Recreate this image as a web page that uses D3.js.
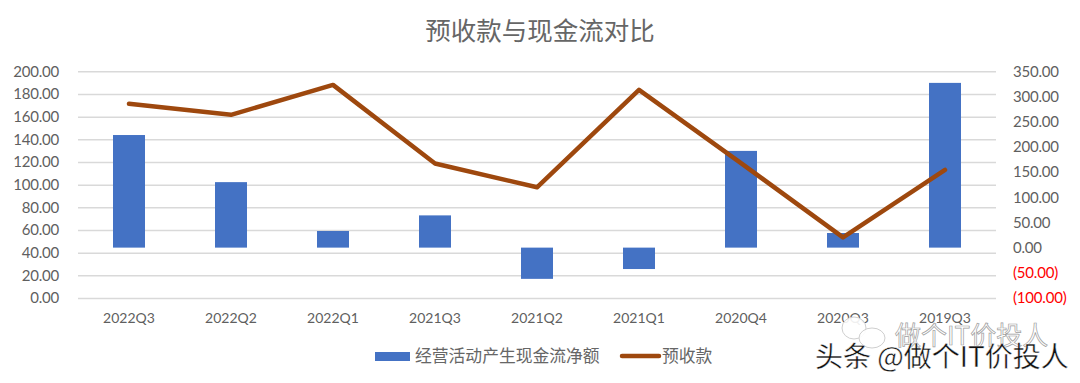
<!DOCTYPE html>
<html>
<head>
<meta charset="utf-8">
<script src="https://cdn.jsdelivr.net/npm/d3@7"></script>
<style>
  body { margin: 0; background: #fff; }
  text { font-family: Lato, "Noto Sans CJK SC", sans-serif; }
</style>
</head>
<body>
<div id="chart"></div>
<script>
// values
const quarters = ['2022Q3', '2022Q2', '2022Q1', '2021Q3', '2021Q2', '2021Q1', '2020Q4', '2020Q3', '2019Q3'];
const cashFlow = [223.5, 130, 33, 64, -62, -42.5, 192, 29, 327];
const advance = [171.3, 161.6, 188, 118.7, 97.7, 183.6, 119, 53.5, 113];
const leftTicks = [0, 20, 40, 60, 80, 100, 120, 140, 160, 180, 200];
const rightTicks = [-100, -50, 0, 50, 100, 150, 200, 250, 300, 350];

const width = 1080; const height = 383;
const margin = {top: 71.3, right: 84, bottom: 85, left: 78};
const innerWidth = width - margin.left - margin.right;
const innerHeight = height - margin.top - margin.bottom;

const svg = d3.select('#chart')
    .append('svg')
        .attr('width', width)
        .attr('height', height)
        .style('display', 'block');

const plotG = svg.append('g')
    .attr('transform', `translate(${margin.left}, ${margin.top})`);

const xScale = d3.scaleBand().domain(quarters).range([0, innerWidth]);
const yLeft = d3.scaleLinear().domain([0, 200]).range([innerHeight, 0]);
const yRight = d3.scaleLinear().domain([-100, 350]).range([innerHeight, 0]);

// gridlines
plotG.append('g')
    .call(d3.axisLeft(yLeft).tickValues(leftTicks).tickSize(-innerWidth).tickFormat(''))
    .call(g => g.select('.domain').remove())
    .selectAll('line')
        .attr('stroke', '#d9d9d9')
        .attr('stroke-width', 1.5);

// left axis
const axisL = plotG.append('g')
    .call(d3.axisLeft(yLeft).tickValues(leftTicks).tickSize(0).tickPadding(19).tickFormat(d3.format('.2f')));
axisL.select('.domain').remove();
axisL.selectAll('text')
    .attr('fill', '#5f5f5f')
    .style('font-size', '15px')
    .style('letter-spacing', '-0.2px');

// right axis, negatives in red with brackets
const axisR = plotG.append('g')
    .attr('transform', `translate(${innerWidth}, 0)`)
    .call(d3.axisRight(yRight).tickValues(rightTicks).tickSize(0).tickPadding(17)
        .tickFormat(d => d < 0 ? `(${d3.format('.2f')(-d)})` : d3.format('.2f')(d)));
axisR.select('.domain').remove();
axisR.selectAll('text')
    .attr('fill', d => d < 0 ? '#ff0000' : '#5f5f5f')
    .style('font-size', '15px')
    .style('letter-spacing', '-0.2px');

// x labels
const axisX = plotG.append('g')
    .attr('transform', `translate(0, ${innerHeight})`)
    .call(d3.axisBottom(xScale).tickSize(0).tickPadding(15));
axisX.select('.domain').remove();
axisX.selectAll('text')
    .attr('fill', '#5f5f5f')
    .style('font-size', '14px');

// bars
plotG.selectAll('.bar')
    .data(quarters)
    .enter()
    .append('rect')
        .attr('class', 'bar')
        .attr('x', d => xScale(d) + xScale.bandwidth() / 2 - 16)
        .attr('width', 32)
        .attr('y', (d, i) => yRight(Math.max(cashFlow[i], 0)))
        .attr('height', (d, i) => Math.abs(yRight(cashFlow[i]) - yRight(0)))
        .attr('fill', '#4472c4');

// line
const line = d3.line()
    .x(d => xScale(d.q) + xScale.bandwidth() / 2)
    .y(d => yLeft(d.v));
plotG.append('path')
    .datum(quarters.map((q, i) => ({q: q, v: advance[i]})))
    .attr('d', line)
    .attr('fill', 'none')
    .attr('stroke', '#9e480e')
    .attr('stroke-width', 4.5)
    .attr('stroke-linecap', 'round')
    .attr('stroke-linejoin', 'round');

// title
svg.append('text')
    .attr('x', 540)
    .attr('y', 39.5)
    .attr('text-anchor', 'middle')
    .attr('fill', '#666666')
    .style('font-family', '"Noto Sans CJK SC"')
    .style('font-size', '25.5px')
    .text('预收款与现金流对比');

// legend
const legend = svg.append('g').style('font-family', '"Noto Sans CJK SC"').style('font-size', '16.8px').attr('fill', '#666666');
legend.append('rect').attr('x', 375).attr('y', 352).attr('width', 35).attr('height', 9).attr('fill', '#4472c4');
legend.append('text').attr('x', 415).attr('y', 362).text('经营活动产生现金流净额');
legend.append('line').attr('x1', 622).attr('x2', 659).attr('y1', 356).attr('y2', 356)
    .attr('stroke', '#9e480e').attr('stroke-width', 4.5).attr('stroke-linecap', 'round');
legend.append('text').attr('x', 662).attr('y', 362).text('预收款');

// watermark bubbles sit over the 2020Q3 label
const bubbles = svg.append('g').attr('fill', '#ffffff').attr('fill-opacity', 0.9)
    .attr('stroke', '#cfcfcf').attr('stroke-width', 1);
bubbles.append('ellipse').attr('cx', 854).attr('cy', 328).attr('rx', 12).attr('ry', 11);
bubbles.append('ellipse').attr('cx', 872).attr('cy', 338).attr('rx', 13).attr('ry', 10);

// watermarks on top of the chart
svg.append('text')
    .attr('x', 895).attr('y', 345)
    .attr('fill', '#ffffff').attr('fill-opacity', 0.6).attr('stroke', '#a0a0a0').attr('stroke-width', 0.7)
    .style('font-family', '"Noto Sans CJK SC"').style('font-size', '26px')
    .text('做个IT价投人');
svg.append('text')
    .attr('x', 815).attr('y', 367)
    .attr('fill', '#111').attr('stroke', '#fff').attr('stroke-width', 0.4)
    .style('font-family', '"Noto Sans CJK SC"').style('font-size', '28px')
    .text('头条 @做个IT价投人');
</script>
</body>
</html>
